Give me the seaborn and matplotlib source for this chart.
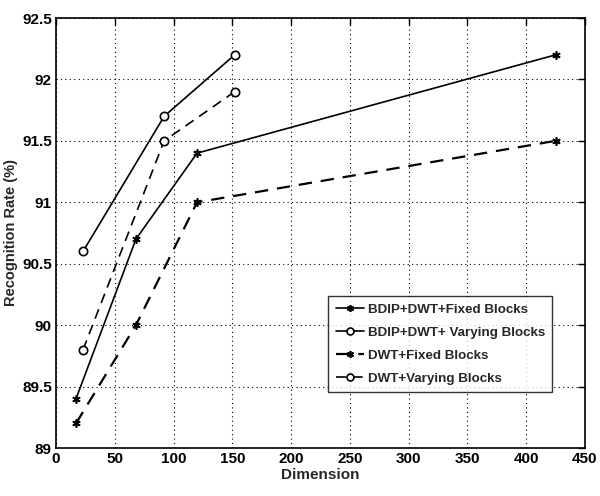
import matplotlib
matplotlib.use("Agg")
import matplotlib.pyplot as plt
import seaborn as sns
import pandas as pd

sns.set_style("white")
plt.rcParams['font.family'] = ['Liberation Sans', 'DejaVu Sans']
plt.rcParams['font.weight'] = 'bold'

labels = ["BDIP+DWT+Fixed Blocks", "BDIP+DWT+ Varying Blocks",
          "DWT+Fixed Blocks", "DWT+Varying Blocks"]
x_fixed = [17, 68, 120, 425]
x_vary = [23, 92, 152]
bdip_fixed = [89.4, 90.7, 91.4, 92.2]
bdip_vary = [90.6, 91.7, 92.2]
dwt_fixed = [89.2, 90.0, 91.0, 91.5]
dwt_vary = [89.8, 91.5, 91.9]

fig = plt.figure(figsize=(6.0, 4.96), dpi=100)
ax = fig.add_axes([56/600, 1-448/496, (585-56)/600, (448-18)/496])

series = [
    (x_fixed, bdip_fixed, labels[0], '-', (6, 2, 0), 'k', 1.2),
    (x_vary, bdip_vary, labels[1], '-', 'o', 'white', 1.2),
    (x_fixed, dwt_fixed, labels[2], (0, (6, 4)), (6, 2, 0), 'k', 1.6),
    (x_vary, dwt_vary, labels[3], (0, (6, 4)), 'o', 'white', 1.2),
]
for xs, ys, lab, ls, mk, mfc, lw in series:
    df = pd.DataFrame({"Dimension": xs, "Rate": ys})
    sns.lineplot(data=df, x="Dimension", y="Rate", ax=ax, color='k',
                 linestyle=ls, linewidth=lw, marker=mk, markersize=6,
                 markerfacecolor=mfc, markeredgecolor='k', markeredgewidth=1.2,
                 label=lab)

ax.set_xlim(0, 450)
ax.set_ylim(89, 92.5)
ax.set_xticks(range(0, 451, 50))
ax.set_yticks([89, 89.5, 90, 90.5, 91, 91.5, 92, 92.5])
ax.set_yticklabels(["89", "89.5", "90", "90.5", "91", "91.5", "92", "92.5"])
ax.grid(True, color='k', linestyle=(0, (1, 3)), linewidth=0.8)
ax.tick_params(direction='in', top=True, right=True, length=5, labelsize=11,
               width=1, colors='k', pad=3)
for lbl in ax.get_xticklabels() + ax.get_yticklabels():
    lbl.set_fontweight('bold')
for s in ax.spines.values():
    s.set_color('k')
    s.set_linewidth(1.2)
ax.set_xlabel("Dimension", fontsize=11, fontweight='bold', labelpad=1)
ax.set_ylabel("Recognition Rate (%)", fontsize=10.5, fontweight='bold')
ax.yaxis.set_label_coords(-38/529, 0.5)

leg = ax.legend(loc='lower left', bbox_to_anchor=(0.502, 0.115), fontsize=9.6,
                frameon=True, fancybox=False, edgecolor='k', handlelength=2.1,
                borderpad=0.55, labelspacing=0.8, handletextpad=0.3)
leg.get_frame().set_linewidth(1.0)
for t in leg.get_texts():
    t.set_fontweight('bold')
for h in leg.legend_handles:
    h.set_markersize(5)

fig.savefig("out.png", dpi=100)
